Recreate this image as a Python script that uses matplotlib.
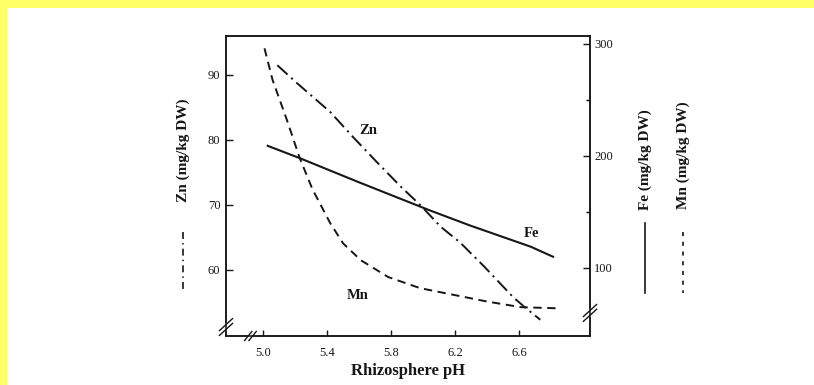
import matplotlib
matplotlib.use('Agg')
import matplotlib.pyplot as plt
from matplotlib.lines import Line2D

plt.rcParams['font.family'] = ['Liberation Serif', 'DejaVu Serif']
plt.rcParams['lines.scale_dashes'] = False

# data
zn_ph = [5.09, 5.21, 5.42, 5.56, 5.71, 5.86, 5.98, 6.11, 6.23, 6.38, 6.56, 6.63, 6.73]
zn_val = [91.5, 88.8, 84.3, 80.5, 76.6, 72.8, 70.0, 66.6, 64.2, 60.5, 55.8, 54.3, 52.3]

fe_ph = [5.03, 5.23, 5.59, 6.03, 6.29, 6.67, 6.81]
fe_val = [209, 198, 177, 152, 138, 119, 110]

mn_ph = [5.01, 5.06, 5.15, 5.23, 5.31, 5.42, 5.50, 5.61, 5.78, 5.98, 6.19, 6.40, 6.61, 6.84]
mn_val = [296, 268, 232, 198, 170, 140, 122, 107, 92, 82, 76, 70, 65, 64]

x_ticks = [5.0, 5.4, 5.8, 6.2, 6.6]
zn_ticks = [60, 70, 80, 90]
fe_ticks = [100, 200, 300]
fe_minor = [150, 250]

ink = '#161616'
W, H = 814, 385
fig = plt.figure(figsize=(W / 100, H / 100), dpi=100, facecolor='#ffff66')
# white page area (yellow strip top and left)
fig.patches.append(plt.Rectangle((7 / W, 0), 1, 1 - 8 / H, transform=fig.transFigure,
                                 facecolor='white', edgecolor='none', zorder=-5))

l, r, t, b = 226, 590, 36, 336
ax = fig.add_axes([l / W, 1 - b / H, (r - l) / W, (b - t) / H])
ax.set_facecolor('white')
ax2 = ax.twinx()

ax.plot(zn_ph, zn_val, color=ink, lw=1.4, linestyle=(0, (10, 3.5, 1.5, 3.5)))
ax2.plot(fe_ph, fe_val, color=ink, lw=1.5, linestyle='-')
ax2.plot(mn_ph, mn_val, color=ink, lw=1.4, linestyle=(0, (6, 4)))

ax.set_xlim(4.77, 7.04)
ax.set_ylim(49.8, 96)
ax2.set_ylim(39.3, 307)

ax.set_xticks(x_ticks)
ax.set_xticklabels(['%.1f' % v for v in x_ticks])
ax.set_yticks(zn_ticks)
ax2.set_yticks(fe_ticks)
ax2.set_yticks(fe_minor, minor=True)

for a in (ax, ax2):
    for s in a.spines.values():
        s.set_linewidth(1.1)
        s.set_color(ink)
ax.tick_params(axis='y', direction='in', length=5, width=1, labelsize=9, colors=ink, pad=4)
ax.tick_params(axis='x', direction='in', length=4, width=1, labelsize=9, colors=ink, pad=8)
ax2.tick_params(axis='y', which='major', direction='in', length=5, width=1, labelsize=9, colors=ink, pad=3)
ax2.tick_params(axis='y', which='minor', direction='in', length=3, width=1)

ax.set_xlabel('Rhizosphere pH', fontsize=12, fontweight='bold', color=ink, labelpad=3)

# curve labels
ax.text(5.66, 81.5, 'Zn', fontsize=10.5, fontweight='bold', color=ink, ha='center', va='center')
ax2.text(6.675, 131, 'Fe', fontsize=10.5, fontweight='bold', color=ink, ha='center', va='center')
ax2.text(5.59, 75, 'Mn', fontsize=10.5, fontweight='bold', color=ink, ha='center', va='center')

# axis break marks
for x0, y0 in [(0, 0.03), (1, 0.077)]:
    ax.add_patch(plt.Rectangle((x0 - 0.01, y0 - 0.012), 0.02, 0.024, transform=ax.transAxes,
                               facecolor='white', edgecolor='none', clip_on=False, zorder=4))
    for off in (-0.008, 0.008):
        ax.add_line(Line2D([x0 - 0.018, x0 + 0.018], [y0 - 0.02 + off, y0 + 0.02 + off],
                           transform=ax.transAxes, color=ink, lw=1, clip_on=False, zorder=5))
ax.add_patch(plt.Rectangle((0.06, -0.012), 0.014, 0.024, transform=ax.transAxes,
                           facecolor='white', edgecolor='none', clip_on=False, zorder=4))
for off in (-0.006, 0.006):
    ax.add_line(Line2D([0.067 + off - 0.01, 0.067 + off + 0.01], [-0.015, 0.015],
                       transform=ax.transAxes, color=ink, lw=1, clip_on=False, zorder=5))

# axis titles with line-style keys
def side_label(xp, ymid, text, ls, y0, y1):
    fig.text(xp / W, 1 - ymid / H, text, rotation=90, fontsize=11, fontweight='bold',
             color=ink, ha='center', va='center')
    fig.add_artist(Line2D([xp / W, xp / W], [1 - y0 / H, 1 - y1 / H], transform=fig.transFigure,
                          color=ink, lw=1.2, linestyle=ls))

side_label(183, 150, 'Zn (mg/kg DW)', (0, (5, 3, 1, 3)), 232, 290)
side_label(645, 160, 'Fe (mg/kg DW)', '-', 223, 293)
side_label(683, 155, 'Mn (mg/kg DW)', (0, (3, 4)), 232, 293)

fig.savefig('out.png', dpi=100, facecolor=fig.get_facecolor())
